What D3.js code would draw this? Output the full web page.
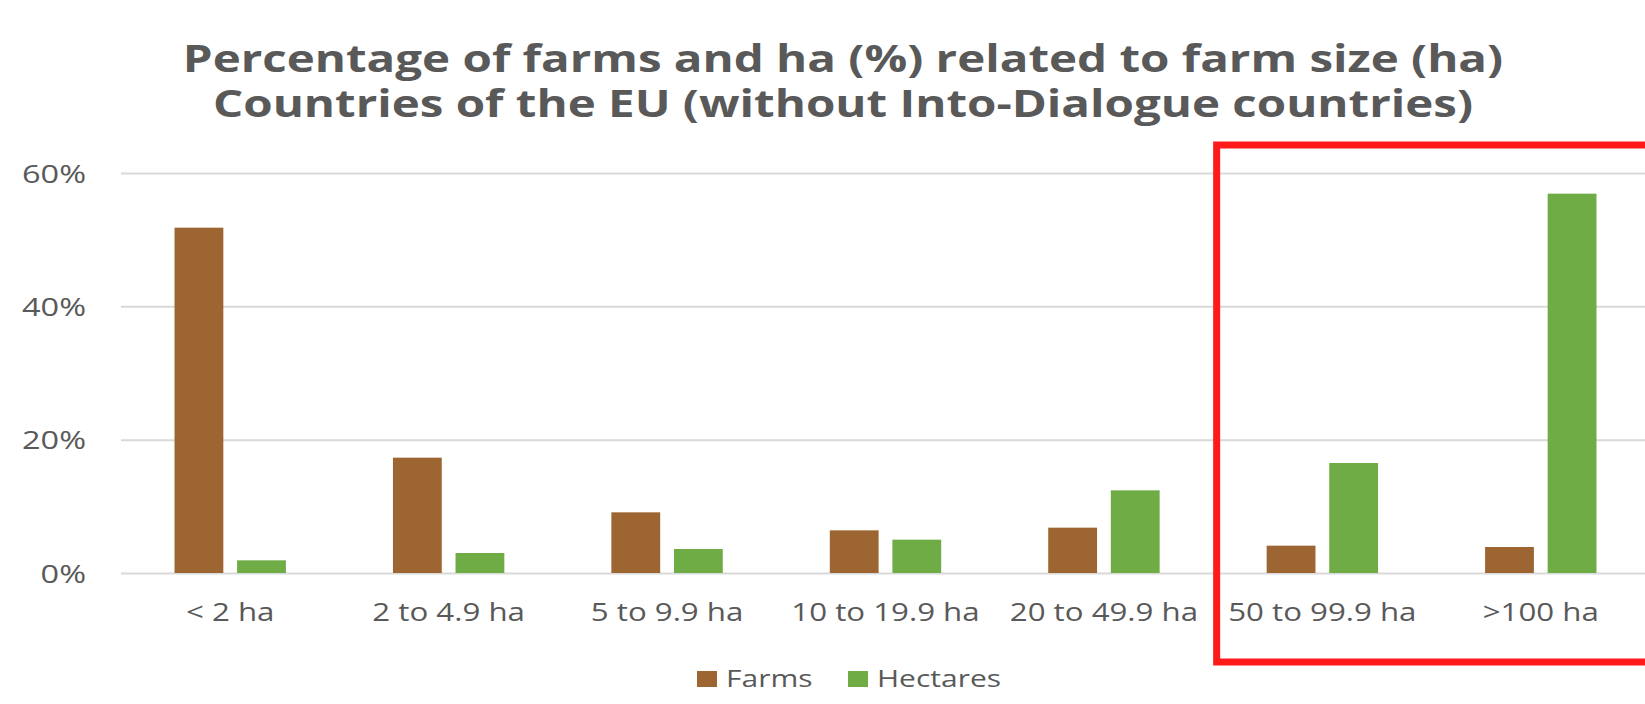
<!DOCTYPE html>
<html>
<head>
<meta charset="utf-8">
<title>Percentage of farms and ha related to farm size</title>
<script src="https://d3js.org/d3.v7.min.js"></script>
<style>
  body {margin: 0; background: #fff;}
  text {font-family: "Open Sans", sans-serif; fill: #595959;}
</style>
</head>
<body>
<svg id="chart" width="1645" height="704"></svg>
<script>
// values (percent)
var categories = ["< 2 ha", "2 to 4.9 ha", "5 to 9.9 ha", "10 to 19.9 ha", "20 to 49.9 ha", "50 to 99.9 ha", ">100 ha"];
var series = ["Farms", "Hectares"];
var farms = [51.8, 17.3, 9.1, 6.4, 6.8, 4.1, 3.9];
var hectares = [1.9, 3.0, 3.6, 5.0, 12.4, 16.5, 56.9];
var yTicks = [0, 20, 40, 60];
var titleLines = ["Percentage of farms and ha (%) related to farm size (ha)",
                  "Countries of the EU (without Into-Dialogue countries)"];

var colors = {Farms: "#9c6531", Hectares: "#6fac46"};
var sx = 1.25; // the source picture is stretched sideways

var svg = d3.select("#chart");
var plotLeft = 121, plotRight = 1650, plotTop = 173, plotBottom = 573;

var x0 = d3.scaleBand().domain(categories).range([plotLeft, plotRight])
    .paddingInner(0.49).paddingOuter(0.245);
var x1 = d3.scaleBand().domain(series).range([0, x0.bandwidth()]).paddingInner(0.22);
var y = d3.scaleLinear().domain([0, 60]).range([plotBottom, plotTop]);

function stretch(sel) {
  sel.each(function() {
    var t = d3.select(this);
    var cx = +t.attr("x") || 0;
    t.attr("transform", "translate(" + cx + ",0) scale(" + sx + ",1) translate(" + (-cx) + ",0)");
  });
}

// y axis with grid lines
var yAxis = svg.append("g")
    .attr("transform", "translate(" + plotLeft + ",0)")
    .call(d3.axisLeft(y).tickValues(yTicks).tickSize(-(plotRight - plotLeft)).tickPadding(0)
      .tickFormat(function(d) { return d + "%"; }));
yAxis.select(".domain").remove();
yAxis.selectAll(".tick line").attr("stroke", "#d9d9d9").attr("stroke-width", 2);
yAxis.selectAll(".tick text")
    .attr("x", -35).attr("dy", "0.35em")
    .style("font-size", "26px").style("font-family", "'Open Sans', sans-serif")
    .attr("fill", "#595959")
    .call(stretch);

// bars
var rows = categories.map(function(c, i) {
  return {cat: c, values: [{key: "Farms", v: farms[i]}, {key: "Hectares", v: hectares[i]}]};
});
var groups = svg.append("g").selectAll("g").data(rows).enter().append("g")
    .attr("transform", function(d) { return "translate(" + x0(d.cat) + ",0)"; });
groups.selectAll("rect").data(function(d) { return d.values; }).enter().append("rect")
    .attr("x", function(d) { return x1(d.key); })
    .attr("width", x1.bandwidth())
    .attr("y", function(d) { return y(d.v); })
    .attr("height", function(d) { return y(0) - y(d.v); })
    .attr("fill", function(d) { return colors[d.key]; });

// category labels
svg.append("g").selectAll("text").data(categories).enter().append("text")
    .attr("x", function(d) { return x0(d) + x0.bandwidth() / 2; })
    .attr("y", 621)
    .attr("text-anchor", "middle")
    .style("font-size", "25px")
    .text(function(d) { return d; })
    .call(stretch);

// title
svg.append("g").selectAll("text").data(titleLines).enter().append("text")
    .attr("x", 843)
    .attr("y", function(d, i) { return 72 + i * 45; })
    .attr("text-anchor", "middle")
    .style("font-size", "38px").style("font-weight", "bold")
    .text(function(d) { return d; })
    .call(stretch);

// legend
var legendX = [697, 848];
var legend = svg.append("g").selectAll("g").data(series).enter().append("g")
    .attr("transform", function(d, i) { return "translate(" + legendX[i] + ",671)"; });
legend.append("rect").attr("width", 20).attr("height", 16)
    .attr("fill", function(d) { return colors[d]; });
legend.append("text").attr("x", 29).attr("y", 16)
    .style("font-size", "24px")
    .text(function(d) { return d; })
    .call(stretch);

// red highlight frame around the two largest size classes
svg.append("rect")
    .attr("x", x0("50 to 99.9 ha") - 50).attr("y", 145)
    .attr("width", 470).attr("height", 517)
    .attr("fill", "none").attr("stroke", "#ff1a1a").attr("stroke-width", 7);
</script>
</body>
</html>
